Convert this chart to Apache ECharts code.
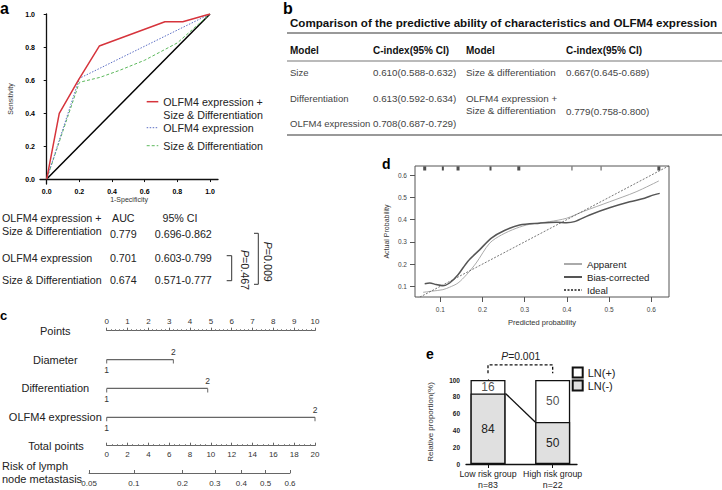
<!DOCTYPE html>
<html><head><meta charset="utf-8">
<script src="https://cdn.jsdelivr.net/npm/echarts@6/dist/echarts.min.js"></script>
<style>html,body{margin:0;padding:0;background:#fff}#c{width:722px;height:490px}</style>
</head><body><div id="c"></div>
<script>
// ================= DATA =================
// Panel a: ROC curves [1-specificity, sensitivity]
const rocCombined = [[0,0],[0.077,0.398],[0.194,0.6],[0.322,0.806],[0.724,0.953],[0.833,0.953],[1,1]];
const rocOlfm4 = [[0,0],[0.2,0.61],[1,1]];
const rocSizeDiff = [[0,0],[0.2,0.586],[0.326,0.616],[0.45,0.66],[0.6,0.72],[0.8,0.825],[1,1]];
const rocChance = [[0,0],[1,1]];
const rocTicks = [0,0.2,0.4,0.6,0.8,1.0];
const rocLegend = ['OLFM4 expression +\nSize & Differentiation','OLFM4 expression','Size & Differentiation'];
const aucHeader = ['AUC','95% CI'];
const aucModels = ['OLFM4 expression +\nSize & Differentiation','OLFM4 expression','Size & Differentiation'];
const aucValues = ['0.779','0.701','0.674'];
const aucCI = ['0.696-0.862','0.603-0.799','0.571-0.777'];
const aucP = ['0.467','0.009'];

// Panel b: table
const tblTitle = 'Comparison of the predictive ability of characteristics and OLFM4 expression';
const tblHeader = ['Model','C-index(95% CI)','Model','C-index(95% CI)'];
const tblModelsL = ['Size','Differentiation','OLFM4 expression'];
const tblCIndexL = ['0.610(0.588-0.632)','0.613(0.592-0.634)','0.708(0.687-0.729)'];
const tblModelsR = ['Size & differentiation','OLFM4 expression +\nSize & differentiation'];
const tblCIndexR = ['0.667(0.645-0.689)','0.779(0.758-0.800)'];

// Panel c: nomogram
const nomoPointsMax = 10;
const nomoTotalMax = 20;
const nomoRows = ['OLFM4 expression','Differentiation','Diameter','Points'];
const nomoRowPoints = {'Diameter':3.2, 'Differentiation':4.85, 'OLFM4 expression':10};
const nomoRowLevels = ['1','2'];
const riskTicks = [0.05,0.1,0.2,0.3,0.4,0.5,0.6];
const riskIntercept = -2.65;   // logit at 0 total points
const riskSlope = 0.1736;      // logit per total point

// Panel d: calibration
const calApparent = [[0.059,0.073],[0.079,0.078],[0.106,0.085],[0.122,0.096],[0.142,0.115],[0.162,0.152],[0.185,0.205],[0.217,0.294],[0.245,0.331],[0.28,0.361],[0.312,0.379],[0.359,0.391],[0.399,0.406],[0.438,0.436],[0.501,0.48],[0.564,0.525],[0.618,0.574]];
const calBias = [[0.063,0.112],[0.075,0.115],[0.09,0.108],[0.106,0.103],[0.122,0.115],[0.142,0.152],[0.165,0.212],[0.193,0.264],[0.221,0.317],[0.252,0.351],[0.288,0.376],[0.335,0.384],[0.375,0.388],[0.399,0.386],[0.418,0.391],[0.454,0.421],[0.501,0.453],[0.549,0.48],[0.584,0.496],[0.604,0.51],[0.62,0.518]];
const calIdeal = [[0,0],[0.7,0.7]];
const calTicks = [0.1,0.2,0.3,0.4,0.5,0.6];
const rugX = [0.063,0.106,0.142,0.219,0.286,0.412,0.481,0.618];
const rugW = [3,2,3,2,3,1,1,3];

// Panel e: proportions
const groups = ['Low risk group','High risk group'];
const groupN = ['n=83','n=22'];
const lnNeg = [84,50];
const lnPos = [16,50];
const pBracket = [108,118];
const pText = '0.001';

// ================= LAYOUT =================
const FONT = "'Liberation Sans', Arial, Helvetica, sans-serif";
const nomoLeft = 106.7, nomoWidth = 208.3;
const logit = p => Math.log(p/(1-p));
const riskTP = p => (logit(p) - riskIntercept) / riskSlope;
const riskMin = riskTP(riskTicks[0]), riskMax = riskTP(riskTicks[riskTicks.length-1]);
const pxPerTotal = nomoWidth / nomoTotalMax;
const riskTickPos = riskTicks.map(riskTP);

const eLeft = 466, eWidth = 111, eXMin = -0.34, eXMax = 1.376, eBarW = 35;
const eBarHalf = (eBarW/2) / (eWidth/(eXMax-eXMin));

function txt(x, y, text, o) {
  o = o || {};
  return {type:'text', x:x, y:y, rotation:o.rot||0, silent:true,
    style:{text:text, x:0, y:0, fill:o.color||'#222', fontSize:o.size||10.7, fontFamily:FONT,
      fontWeight:o.weight||'normal', align:o.align||'left', verticalAlign:o.va||'middle',
      lineHeight:o.lh, rich:o.rich}};
}
function seg(x1,y1,x2,y2,o){o=o||{};return {type:'line',silent:true,shape:{x1,y1,x2,y2},style:{stroke:o.color||'#222',lineWidth:o.w||1,lineDash:o.dash}};}
function poly(pts,o){o=o||{};return {type:'polyline',silent:true,shape:{points:pts},style:{stroke:o.color||'#333',lineWidth:o.w||1,fill:null}};}

const noSplit = {show:false};
const graphics = [];
// panel letters
graphics.push(txt(0,16,'a',{size:16,weight:'bold',va:'bottom',color:'#000'}));
graphics.push(txt(283,16,'b',{size:16,weight:'bold',va:'bottom',color:'#000'}));
graphics.push(txt(0,322,'c',{size:13,weight:'bold',va:'bottom',color:'#000'}));
graphics.push(txt(382,171,'d',{size:14,weight:'bold',va:'bottom',color:'#000'}));
graphics.push(txt(426,361,'e',{size:14,weight:'bold',va:'bottom',color:'#000'}));
// panel a legend
const legA = [{y:101.7,color:'#d6343c',dash:null,w:1.5},{y:127.7,color:'#5b6ec4',dash:[1.5,1.5],w:1},{y:145.7,color:'#5cb85c',dash:[3,2],w:1}];
legA.forEach((l,i)=>{
  graphics.push(seg(146.7,l.y,158.3,l.y,{color:l.color,dash:l.dash,w:l.w}));
  graphics.push(txt(163.3,l.y-6.65,rocLegend[i],{va:'top',lh:13.3}));
});
// AUC table
graphics.push(txt(123.3,218.3,aucHeader[0],{align:'center'}));
graphics.push(txt(180,218.3,aucHeader[1],{align:'center'}));
const aucRowY = [232.5,258.3,280];
aucModels.forEach((m,i)=>{
  const lines = m.split('\n').length;
  graphics.push(txt(2,aucRowY[i]-(lines-1)*6.65-(i===0?1:0),m,{lh:13.3}));
  graphics.push(txt(123.3,aucRowY[i]+(i===0?1:0),aucValues[i],{align:'center'}));
  graphics.push(txt(183.3,aucRowY[i]+(i===0?1:0),aucCI[i],{align:'center'}));
});
graphics.push(poly([[226.7,255.7],[231.7,255.7],[231.7,280.7],[226.7,280.7]]));
graphics.push(poly([[254,233.3],[258.3,233.3],[258.3,284.3],[254,284.3]]));
graphics.push(txt(245,270,'{i|P}='+aucP[0],{align:'center',rot:-Math.PI/2,rich:{i:{fontStyle:'italic',fontSize:10.7,fontFamily:FONT,fill:'#222'}}}));
graphics.push(txt(268.3,261.7,'{i|P}='+aucP[1],{align:'center',rot:-Math.PI/2,rich:{i:{fontStyle:'italic',fontSize:10.7,fontFamily:FONT,fill:'#222'}}}));
// panel b table
graphics.push(txt(290,22,tblTitle,{size:11.6,weight:'bold',color:'#111'}));
graphics.push(seg(287,33,722,33,{color:'#777',w:1.5}));
graphics.push(seg(287,61,722,61,{color:'#777',w:1.2}));
graphics.push(seg(287,135,722,135,{color:'#777',w:1.5}));
const colX = [290,373,466,566];
tblHeader.forEach((h,i)=>graphics.push(txt(colX[i],50,h,{size:10,weight:'bold',color:'#111'})));
const rowYL = [72,98.3,123];
tblModelsL.forEach((m,i)=>{
  graphics.push(txt(colX[0],rowYL[i],m,{size:9.5,color:'#444'}));
  graphics.push(txt(colX[1],rowYL[i],tblCIndexL[i],{size:9.8,color:'#444'}));
});
const rowYR = [72,111];
tblModelsR.forEach((m,i)=>{
  graphics.push(txt(colX[2],rowYR[i]-(m.split('\n').length-1)*6.3,m,{size:9.8,color:'#444',lh:12.6}));
  graphics.push(txt(colX[3],rowYR[i],tblCIndexR[i],{size:9.8,color:'#444'}));
});
// nomogram labels
graphics.push(txt(56,446,'Total points',{size:11,align:'center'}));
graphics.push(txt(2,472.5,'Risk of lymph\nnode metastasis',{size:11,lh:13}));
// panel e P text
graphics.push(txt(520.7,356.7,'{i|P}='+pText,{size:10.4,align:'center',rich:{i:{fontStyle:'italic',fontSize:10.4,fontFamily:FONT,fill:'#222'}}}));

const option = {
  animation:false,
  backgroundColor:'#fff',
  textStyle:{fontFamily:FONT},
  grid:[
    {left:40, top:14, width:178, height:170},
    {left:415, top:166, width:254, height:131, show:true, borderColor:'#555', borderWidth:1},
    {left:nomoLeft, top:330.7, width:nomoWidth, height:86.6},
    {left:nomoLeft, top:435.7, width:nomoWidth, height:10},
    {left:nomoLeft+riskMin*pxPerTotal, top:463, width:(riskMax-riskMin)*pxPerTotal, height:10},
    {left:eLeft, top:380, width:eWidth, height:84}
  ],
  xAxis:[
    {gridIndex:0, type:'value', min:-0.041, max:1.049, splitLine:noSplit,
      axisLine:{show:true,lineStyle:{color:'#111',width:1.3}},
      axisTick:{show:true,customValues:rocTicks,length:3,lineStyle:{color:'#111'}},
      axisLabel:{customValues:rocTicks,formatter:v=>v.toFixed(1),fontSize:7,fontWeight:'bold',color:'#000',margin:4},
      name:'1-Specificity',nameLocation:'middle',nameGap:11,nameTextStyle:{fontSize:7,color:'#333'}},
    {gridIndex:1, type:'value', min:0.04, max:0.642, splitLine:noSplit,
      axisLine:{show:false},
      axisTick:{show:true,customValues:calTicks,length:5,lineStyle:{color:'#555'}},
      axisLabel:{customValues:calTicks,formatter:v=>v.toFixed(1),fontSize:6.5,color:'#444',margin:9},
      name:'Predicted probability',nameLocation:'middle',nameGap:21,nameTextStyle:{fontSize:7.5,color:'#333'}},
    {gridIndex:2, type:'value', min:0, max:nomoPointsMax, interval:1, position:'top', splitLine:noSplit,
      axisLine:{show:true,lineStyle:{color:'#666',width:1}},
      axisTick:{show:true,length:3,lineStyle:{color:'#666'}},
      minorTick:{show:true,splitNumber:5,length:1.5,lineStyle:{color:'#777'}},
      axisLabel:{fontSize:8,color:'#333',margin:5}},
    {gridIndex:3, type:'value', min:0, max:nomoTotalMax, interval:2, splitLine:noSplit,
      axisLine:{show:true,lineStyle:{color:'#666',width:1}},
      axisTick:{show:true,inside:true,length:3,lineStyle:{color:'#666'}},
      minorTick:{show:true,splitNumber:4,length:1.5,lineStyle:{color:'#777'}},
      axisLabel:{fontSize:8,color:'#333',margin:5}},
    {gridIndex:4, type:'value', min:riskMin, max:riskMax, splitLine:noSplit,
      axisLine:{show:true,lineStyle:{color:'#666',width:1}},
      axisTick:{show:true,inside:true,length:3,customValues:riskTickPos,lineStyle:{color:'#666'}},
      axisLabel:{customValues:riskTickPos,fontSize:8,color:'#333',margin:6,
        formatter:v=>{let k=0,b=1e9;riskTickPos.forEach((p,i)=>{if(Math.abs(p-v)<b){b=Math.abs(p-v);k=i;}});return String(riskTicks[k]);}}},
    {gridIndex:5, type:'value', min:eXMin, max:eXMax, splitLine:noSplit,
      axisLine:{show:true,lineStyle:{color:'#111',width:1.3}},
      axisTick:{show:true,customValues:[0,1],length:4,lineStyle:{color:'#111'}},
      axisLabel:{customValues:[0,1],fontSize:8.8,color:'#222',margin:5,lineHeight:10.5,
        formatter:v=>groups[Math.round(v)]+'\n'+groupN[Math.round(v)]}}
  ],
  yAxis:[
    {gridIndex:0, type:'value', min:-0.03, max:1.0, splitLine:noSplit,
      axisLine:{show:true,lineStyle:{color:'#111',width:1.3}},
      axisTick:{show:true,customValues:rocTicks,length:3,lineStyle:{color:'#111'}},
      axisLabel:{customValues:rocTicks,formatter:v=>v.toFixed(1),fontSize:7,fontWeight:'bold',color:'#000',margin:5},
      name:'Sensitivity',nameLocation:'middle',nameGap:26,nameTextStyle:{fontSize:7,color:'#333'}},
    {gridIndex:1, type:'value', min:0.052, max:0.641, splitLine:noSplit,
      axisLine:{show:false},
      axisTick:{show:true,customValues:calTicks,length:5,lineStyle:{color:'#555'}},
      axisLabel:{customValues:calTicks,formatter:v=>v.toFixed(1),fontSize:6.5,color:'#444',margin:8},
      name:'Actual Probability',nameLocation:'middle',nameGap:25,nameTextStyle:{fontSize:7,color:'#333'}},
    {gridIndex:2, type:'category', data:nomoRows, boundaryGap:false,
      axisLine:{show:false}, axisTick:{show:false}, splitLine:noSplit,
      axisLabel:{fontSize:11,color:'#222',align:'center',margin:51.4}},
    {gridIndex:3, type:'value', show:false, min:0, max:1},
    {gridIndex:4, type:'value', show:false, min:0, max:1},
    {gridIndex:5, type:'value', min:0, max:100, interval:20, splitLine:noSplit,
      axisLine:{show:true,lineStyle:{color:'#111',width:1.3}},
      axisTick:{show:true,length:3,lineStyle:{color:'#111'}},
      axisLabel:{fontSize:6.5,fontWeight:'bold',color:'#222',margin:6},
      name:'Relative proportion(%)',nameLocation:'middle',nameGap:32,nameTextStyle:{fontSize:8,color:'#333'}}
  ],
  legend:[
    {data:['Apparent','Bias-corrected','Ideal'], orient:'vertical', left:563, top:257.5, padding:0,
      itemWidth:18, itemHeight:8, itemGap:0, itemStyle:{opacity:0},
      textStyle:{fontSize:9.7,color:'#222',lineHeight:13,fontFamily:FONT}},
    {data:['LN(+)','LN(-)'], orient:'vertical', left:571.7, top:366.5, padding:0, icon:'rect',
      itemWidth:10, itemHeight:10, itemGap:1, textStyle:{fontSize:11,color:'#222',lineHeight:12,fontFamily:FONT}}
  ],
  graphic:graphics,
  series:[
    // Panel a
    {name:'chance',type:'line',xAxisIndex:0,yAxisIndex:0,data:rocChance,symbol:'none',lineStyle:{color:'#000',width:1.5},z:2},
    {name:'sizediff',type:'line',xAxisIndex:0,yAxisIndex:0,data:rocSizeDiff,symbol:'none',lineStyle:{color:'#5cb85c',width:1,type:[3,2]},z:3},
    {name:'olfm4',type:'line',xAxisIndex:0,yAxisIndex:0,data:rocOlfm4,symbol:'none',lineStyle:{color:'#5b6ec4',width:1,type:[1.5,1.5]},z:4},
    {name:'combined',type:'line',xAxisIndex:0,yAxisIndex:0,data:rocCombined,symbol:'none',lineStyle:{color:'#d6343c',width:1.5},z:5},
    // Panel d
    {name:'Apparent',type:'line',xAxisIndex:1,yAxisIndex:1,data:calApparent,showSymbol:false,smooth:0.3,itemStyle:{color:'#aaa'},lineStyle:{color:'#aaa',width:1}},
    {name:'Bias-corrected',type:'line',xAxisIndex:1,yAxisIndex:1,data:calBias,showSymbol:false,smooth:0.3,itemStyle:{color:'#555'},lineStyle:{color:'#555',width:1.5}},
    {name:'Ideal',type:'line',xAxisIndex:1,yAxisIndex:1,data:calIdeal,showSymbol:false,itemStyle:{color:'#555'},lineStyle:{color:'#555',width:0.8,type:[2,1.5]}},
    {name:'rug',type:'scatter',xAxisIndex:1,yAxisIndex:1,data:rugX.map(x=>[x,0.641]),symbol:'rect',
      symbolSize:(v,p)=>[rugW[p.dataIndex],4],symbolOffset:[0,2.5],itemStyle:{color:'#222'},clip:false,silent:true},
    // Panel c rows
    ...['Diameter','Differentiation','OLFM4 expression'].map(r=>({
      name:r,type:'line',xAxisIndex:2,yAxisIndex:2,symbol:'rect',symbolSize:[1,4],symbolOffset:[0,2],
      itemStyle:{color:'#666'},lineStyle:{color:'#666',width:1.2},
      label:{show:true,fontSize:8.5,color:'#333',distance:2},
      data:[{value:[0,r],label:{position:'bottom',formatter:nomoRowLevels[0]}},
            {value:[nomoRowPoints[r],r],label:{position:'top',formatter:nomoRowLevels[1],distance:3}}]
    })),
    // Panel e: white full-height bars (LN(+) on top of LN(-)), grey LN(-) overlay
    {name:'LN(+)',type:'bar',xAxisIndex:5,yAxisIndex:5,barWidth:eBarW,barGap:'-100%',
      data:lnNeg.map((v,i)=>[i,v+lnPos[i]]),
      itemStyle:{color:'#fff',borderColor:'#111',borderWidth:1.3},z:2},
    {name:'LN(-)',type:'bar',xAxisIndex:5,yAxisIndex:5,barWidth:eBarW,barGap:'-100%',
      data:lnNeg.map((v,i)=>[i,v]),
      itemStyle:{color:'#e0e0e0',borderColor:'#111',borderWidth:1.3},z:3,
      label:{show:true,position:'inside',fontSize:12,color:'#222',formatter:p=>p.value[1]}},
    {name:'lnPosLabel',type:'scatter',xAxisIndex:5,yAxisIndex:5,symbolSize:0,silent:true,z:4,
      data:lnPos.map((v,i)=>[i,lnNeg[i]+v/2]),
      label:{show:true,position:'inside',fontSize:12,color:'#222',formatter:p=>lnPos[p.dataIndex]}},
    {name:'connector',type:'line',xAxisIndex:5,yAxisIndex:5,data:[[eBarHalf,lnNeg[0]],[1-eBarHalf,lnNeg[1]]],
      symbol:'none',lineStyle:{color:'#111',width:1.3},z:5},
    {name:'pbracket',type:'line',xAxisIndex:5,yAxisIndex:5,clip:false,symbol:'none',
      data:[[0,pBracket[0]],[0,pBracket[1]],[1,pBracket[1]],[1,pBracket[0]]],lineStyle:{color:'#111',width:1.3,type:[3,2]}}
  ]
};
const chart = echarts.init(document.getElementById('c'), null, {renderer:'svg', width:722, height:490});
chart.setOption(option);
</script>
</body></html>
